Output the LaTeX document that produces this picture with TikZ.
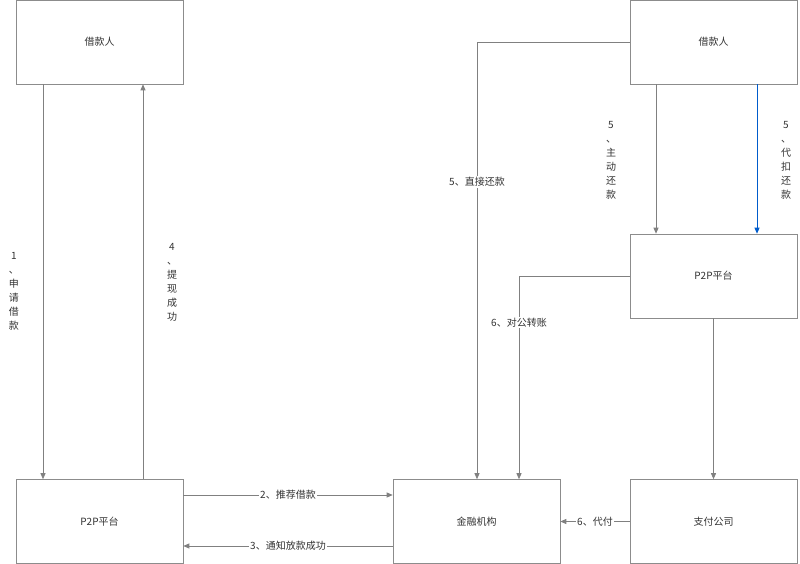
\documentclass[tikz,border=0pt]{standalone}
\usepackage{fontspec}
\newfontfamily\cjk{Noto Sans CJK SC}
\usetikzlibrary{arrows.meta}
\begin{document}
\begin{tikzpicture}[x=1pt,y=-1pt,
  box/.style={draw=black!45,line width=0.6pt,minimum width=167pt,minimum height=84pt,inner sep=0,font=\cjk\fontsize{10}{12}\selectfont,text=black!80},
  conn/.style={draw=black!50,line width=0.8pt,-{Triangle[length=6pt,width=5pt]}},
  lab/.style={fill=white,inner sep=1pt,font=\cjk\fontsize{10}{12}\selectfont,text=black!80},
  vlab/.style={inner sep=1pt,font=\cjk\fontsize{10}{14}\selectfont,text=black!80,align=center}]
\useasboundingbox (0,0) rectangle (800,564);
\node[box] (jl) at (99.5,42) {借款人};
\node[box] (pl) at (99.5,521.5) {P2P平台};
\node[box] (jr) at (713.5,42) {借款人};
\node[box] (pr) at (713.5,276) {P2P平台};
\node[box] (jg) at (476.5,521.5) {金融机构};
\node[box] (zf) at (713.5,521.5) {支付公司};
\draw[conn] (jl.south-|43,0) -- (pl.north-|43,0);
\node[vlab] (l1) at (14,291) {1\\、\\申\\请\\借\\款};
\draw[conn] (pl.north-|143,0) -- (jl.south-|143,0);
\node[vlab] (l4) at (172,282) {4\\、\\提\\现\\成\\功};
\draw[conn] (pl.east|-0,495) -- node[lab]{2、推荐借款} (jg.west|-0,495);
\draw[conn] (jg.west|-0,546) -- node[lab]{3、通知放款成功} (pl.east|-0,546);
\coordinate (c1) at (477,42);
\draw[conn] (jr.west) -- (c1) -- node[lab,pos=0.32]{5、直接还款} (jg.north-|c1);
\draw[conn] (jr.south-|656,0) -- (pr.north-|656,0);
\node[vlab] (l5a) at (611,160) {5\\、\\主\\动\\还\\款};
\draw[conn,draw=blue!55!cyan!80!black] (jr.south-|757,0) -- (pr.north-|757,0);
\node[vlab] (l5b) at (786,160) {5\\、\\代\\扣\\还\\款};
\coordinate (c2) at (519,276);
\draw[conn] (pr.west) -- (c2) -- node[lab,pos=0.23]{6、对公转账} (jg.north-|c2);
\draw[conn] (pr.south) -- (zf.north);
\draw[conn] (zf.west) -- node[lab]{6、代付} (jg.east);
\end{tikzpicture}
\end{document}
